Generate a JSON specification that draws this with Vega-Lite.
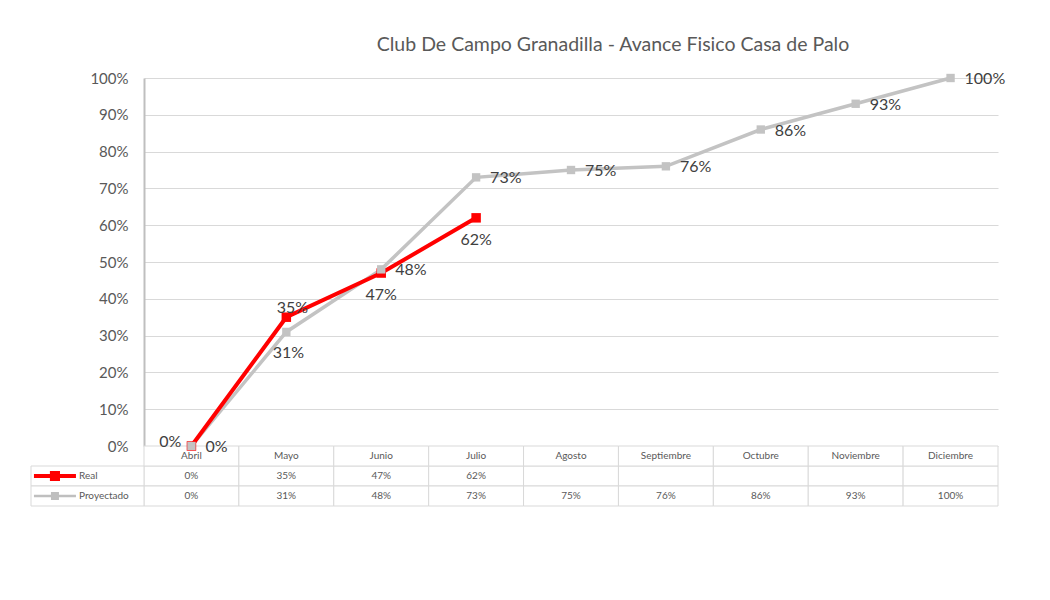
{
  "$schema": "https://vega.github.io/schema/vega-lite/v6.json",
  "width": 854,
  "height": 368,
  "padding": {"left": 30, "top": 34, "right": 5, "bottom": 5},
  "background": "white",
  "title": {
    "text": "Club De Campo Granadilla - Avance Fisico Casa de Palo",
    "fontSize": 19.5,
    "fontWeight": "normal",
    "color": "#595959",
    "font": "Lato",
    "anchor": "middle",
    "frame": "group",
    "dx": 42,
    "offset": 16
  },
  "datasets": {
    "avance": [
      {"mes": "Abril", "serie": "Real", "valor": 0},
      {"mes": "Mayo", "serie": "Real", "valor": 0.35},
      {"mes": "Junio", "serie": "Real", "valor": 0.47},
      {"mes": "Julio", "serie": "Real", "valor": 0.62},
      {"mes": "Agosto", "serie": "Real", "valor": null},
      {"mes": "Septiembre", "serie": "Real", "valor": null},
      {"mes": "Octubre", "serie": "Real", "valor": null},
      {"mes": "Noviembre", "serie": "Real", "valor": null},
      {"mes": "Diciembre", "serie": "Real", "valor": null},
      {"mes": "Abril", "serie": "Proyectado", "valor": 0},
      {"mes": "Mayo", "serie": "Proyectado", "valor": 0.31},
      {"mes": "Junio", "serie": "Proyectado", "valor": 0.48},
      {"mes": "Julio", "serie": "Proyectado", "valor": 0.73},
      {"mes": "Agosto", "serie": "Proyectado", "valor": 0.75},
      {"mes": "Septiembre", "serie": "Proyectado", "valor": 0.76},
      {"mes": "Octubre", "serie": "Proyectado", "valor": 0.86},
      {"mes": "Noviembre", "serie": "Proyectado", "valor": 0.93},
      {"mes": "Diciembre", "serie": "Proyectado", "valor": 1.0}
    ]
  },
  "data": {"name": "avance"},
  "layer": [
    {
      "encoding": {
        "x": {"field": "mes", "type": "nominal", "sort": ["Abril", "Mayo", "Junio", "Julio", "Agosto", "Septiembre", "Octubre", "Noviembre", "Diciembre"], "scale": {"type": "band", "paddingInner": 0, "paddingOuter": 0}, "axis": null},
        "y": {"field": "serie", "type": "nominal", "scale": {"domain": ["Mes", "Real", "Proyectado"], "range": [368, 428], "paddingInner": 0, "paddingOuter": 0}, "axis": null}
      },
      "layer": [
        {"mark": {"type": "rect", "fill": "white", "stroke": "#d9d9d9", "strokeWidth": 1}},
        {
          "transform": [{"filter": "datum.serie === 'Proyectado'"}],
          "mark": {"type": "rect", "fill": "white", "stroke": "#d9d9d9", "strokeWidth": 1},
          "encoding": {"y": {"datum": "Mes", "type": "nominal"}}
        },
        {
          "transform": [{"filter": "datum.serie === 'Proyectado'"}],
          "mark": {"type": "text", "fontSize": 10, "color": "#595959", "font": "Lato"},
          "encoding": {"y": {"datum": "Mes", "type": "nominal"}, "text": {"field": "mes"}}
        },
        {
          "transform": [{"filter": "datum.valor != null"}],
          "mark": {"type": "text", "fontSize": 10, "color": "#595959", "font": "Lato"},
          "encoding": {"text": {"field": "valor", "type": "quantitative", "format": ".0%"}}
        }
      ]
    },
    {
      "transform": [{"filter": "datum.mes === 'Abril'"}],
      "encoding": {
        "x": {"datum": "Leyenda", "type": "nominal", "scale": {"type": "band", "range": [-113, 0], "paddingInner": 0, "paddingOuter": 0}, "axis": null},
        "y": {"field": "serie", "type": "nominal", "scale": {"domain": ["Mes", "Real", "Proyectado"], "range": [368, 428], "paddingInner": 0, "paddingOuter": 0}, "axis": null}
      },
      "layer": [
        {"mark": {"type": "rect", "fill": "white", "stroke": "#d9d9d9", "strokeWidth": 1}},
        {
          "transform": [{"filter": "datum.serie === 'Real'"}],
          "mark": {"type": "point", "filled": true, "color": "#ff0000", "opacity": 1, "size": 1764, "strokeWidth": 0, "shape": "M-1,-0.095H-0.24V-0.24H0.24V-0.095H1V0.095H0.24V0.24H-0.24V0.095H-1Z"},
          "encoding": {"x": {"datum": "Leyenda", "type": "nominal", "bandPosition": 0.212}}
        },
        {
          "transform": [{"filter": "datum.serie === 'Proyectado'"}],
          "mark": {"type": "point", "filled": true, "color": "#bfbfbf", "opacity": 1, "size": 1764, "strokeWidth": 0, "shape": "M-1,-0.06H-0.19V-0.19H0.19V-0.06H1V0.06H0.19V0.19H-0.19V0.06H-1Z"},
          "encoding": {"x": {"datum": "Leyenda", "type": "nominal", "bandPosition": 0.212}}
        },
        {
          "mark": {"type": "text", "align": "left", "fontSize": 10, "color": "#595959", "font": "Lato"},
          "encoding": {"x": {"datum": "Leyenda", "type": "nominal", "bandPosition": 0.425}, "text": {"field": "serie"}}
        }
      ]
    },
    {
      "encoding": {
        "x": {"field": "mes", "type": "nominal", "sort": ["Abril", "Mayo", "Junio", "Julio", "Agosto", "Septiembre", "Octubre", "Noviembre", "Diciembre"], "scale": {"type": "point", "padding": 0.5}, "axis": null},
        "y": {
          "field": "valor", "type": "quantitative",
          "scale": {"domain": [0, 1]},
          "axis": {
            "orient": "left", "format": ".0%", "values": [0, 0.1, 0.2, 0.3, 0.4, 0.5, 0.6, 0.7, 0.8, 0.9, 1.0],
            "title": null, "grid": true, "gridColor": "#d9d9d9", "gridWidth": 1,
            "domain": true, "domainColor": "#bfbfbf", "domainWidth": 2,
            "ticks": false, "labelPadding": 16, "labelFontSize": 15, "labelColor": "#595959", "labelFont": "Lato"
          }
        }
      },
      "layer": [
        {
          "transform": [{"filter": "datum.serie === 'Proyectado'"}],
          "mark": {"type": "line", "color": "#c3c3c3", "strokeWidth": 3.5}
        },
        {
          "transform": [{"filter": "datum.serie === 'Real' && datum.valor != null"}],
          "mark": {"type": "line", "color": "#ff0000", "strokeWidth": 4}
        },
        {
          "transform": [{"filter": "datum.serie === 'Real' && datum.valor != null"}],
          "mark": {"type": "square", "filled": true, "color": "#ff0000", "opacity": 1, "size": 90}
        },
        {
          "transform": [{"filter": "datum.serie === 'Proyectado'"}],
          "mark": {"type": "square", "filled": true, "color": "#c3c3c3", "opacity": 1, "size": 70}
        },
        {
          "transform": [{"filter": "datum.serie === 'Real' && datum.mes === 'Abril'"}],
          "mark": {"type": "text", "align": "right", "dx": -10, "dy": -4, "fontSize": 16, "color": "#404040", "font": "Lato"},
          "encoding": {"text": {"field": "valor", "type": "quantitative", "format": ".0%"}}
        },
        {
          "transform": [{"filter": "datum.serie === 'Real' && datum.mes === 'Mayo'"}],
          "mark": {"type": "text", "align": "center", "dx": 6, "dy": -9, "fontSize": 16, "color": "#404040", "font": "Lato"},
          "encoding": {"text": {"field": "valor", "type": "quantitative", "format": ".0%"}}
        },
        {
          "transform": [{"filter": "datum.serie === 'Real' && (datum.mes === 'Junio' || datum.mes === 'Julio')"}],
          "mark": {"type": "text", "align": "center", "dy": 22, "fontSize": 16, "color": "#404040", "font": "Lato"},
          "encoding": {"text": {"field": "valor", "type": "quantitative", "format": ".0%"}}
        },
        {
          "transform": [{"filter": "datum.serie === 'Proyectado' && datum.mes === 'Mayo'"}],
          "mark": {"type": "text", "align": "center", "dx": 2, "dy": 21, "fontSize": 16, "color": "#404040", "font": "Lato"},
          "encoding": {"text": {"field": "valor", "type": "quantitative", "format": ".0%"}}
        },
        {
          "transform": [{"filter": "datum.serie === 'Proyectado' && datum.mes !== 'Mayo'"}],
          "mark": {"type": "text", "align": "left", "dx": 14, "dy": 1, "fontSize": 16, "color": "#404040", "font": "Lato"},
          "encoding": {"text": {"field": "valor", "type": "quantitative", "format": ".0%"}}
        }
      ]
    }
  ],
  "resolve": {"scale": {"x": "independent", "y": "independent"}},
  "config": {
    "view": {"stroke": null},
    "font": "Lato"
  }
}
